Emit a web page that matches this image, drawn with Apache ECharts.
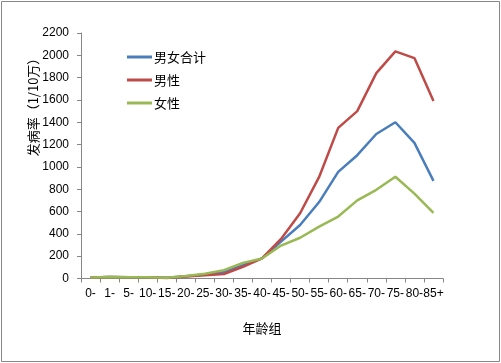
<!DOCTYPE html>
<html><head><meta charset="utf-8">
<script src="https://cdn.jsdelivr.net/npm/echarts@6/dist/echarts.min.js"></script>
<style>html,body{margin:0;padding:0;background:#fff}#c{width:501px;height:363px}</style>
</head><body><div id="c"></div>
<script>
var categories = ["0-","1-","5-","10-","15-","20-","25-","30-","35-","40-","45-","50-","55-","60-","65-","70-","75-","80-","85+"];
var totalValues = [10,14,12,12,6,20,35,55,120,180,330,480,685,955,1105,1295,1400,1215,875];
var maleValues = [10,14,12,11,5,18,30,40,105,180,355,585,910,1350,1500,1840,2035,1975,1590];
var femaleValues = [10,14,12,12,7,22,42,75,140,180,295,365,465,555,700,795,912,760,588];
var yTicks = {min:0, max:2200, interval:200};
var seriesNames = ["男女合计","男性","女性"];

var chart = echarts.init(document.getElementById('c'), null, {renderer:'canvas'});
var font = "'Liberation Sans', Arial, 'Noto Sans CJK SC', sans-serif";
var cjk = "'Noto Sans CJK SC', sans-serif";
chart.setOption({
  animation:false,
  color:['#4A7EBB','#BE4B48','#98B954'],
  grid:{left:81,right:58,top:33,bottom:84.5},
  legend:{
    orient:'vertical', left:127, top:50, padding:0, icon:'rect', itemWidth:25, itemHeight:3, itemGap:9,
    textStyle:{fontFamily:cjk, fontSize:13, color:'#000', lineHeight:14, padding:[0,0,0,-3]},
    data:seriesNames
  },
  xAxis:{
    type:'category', data:categories, boundaryGap:true,
    name:'年龄组', nameLocation:'middle', nameGap:43,
    nameTextStyle:{fontFamily:cjk, fontSize:13, color:'#000'},
    axisLine:{lineStyle:{color:'#868686', width:1}},
    axisTick:{show:true, interval:0, length:4, lineStyle:{color:'#868686'}},
    axisLabel:{interval:0, margin:9, fontFamily:font, fontSize:12, color:'#000'}
  },
  yAxis:{
    type:'value', min:yTicks.min, max:yTicks.max, interval:yTicks.interval,
    axisLine:{show:true, lineStyle:{color:'#868686', width:1}},
    axisTick:{show:true, length:4, lineStyle:{color:'#868686'}},
    splitLine:{show:false},
    axisLabel:{margin:12, fontFamily:font, fontSize:12, color:'#000', formatter:function(v){return String(v);}}
  },
  graphic:[
    {type:'rect', shape:{x:1.5,y:1.5,width:498,height:360}, style:{fill:null, stroke:'#878787', lineWidth:1}},
    {type:'text', x:33, y:104, rotation:Math.PI/2, style:{text:'发病率（1/10万）', fontFamily:cjk, fontSize:13, fill:'#000', align:'center', verticalAlign:'middle'}}
  ],
  series:[
    {name:seriesNames[0], type:'line', data:totalValues, symbol:'none', lineStyle:{width:2.5}},
    {name:seriesNames[1], type:'line', data:maleValues, symbol:'none', lineStyle:{width:2.5}},
    {name:seriesNames[2], type:'line', data:femaleValues, symbol:'none', lineStyle:{width:2.5}}
  ]
});
</script></body></html>
